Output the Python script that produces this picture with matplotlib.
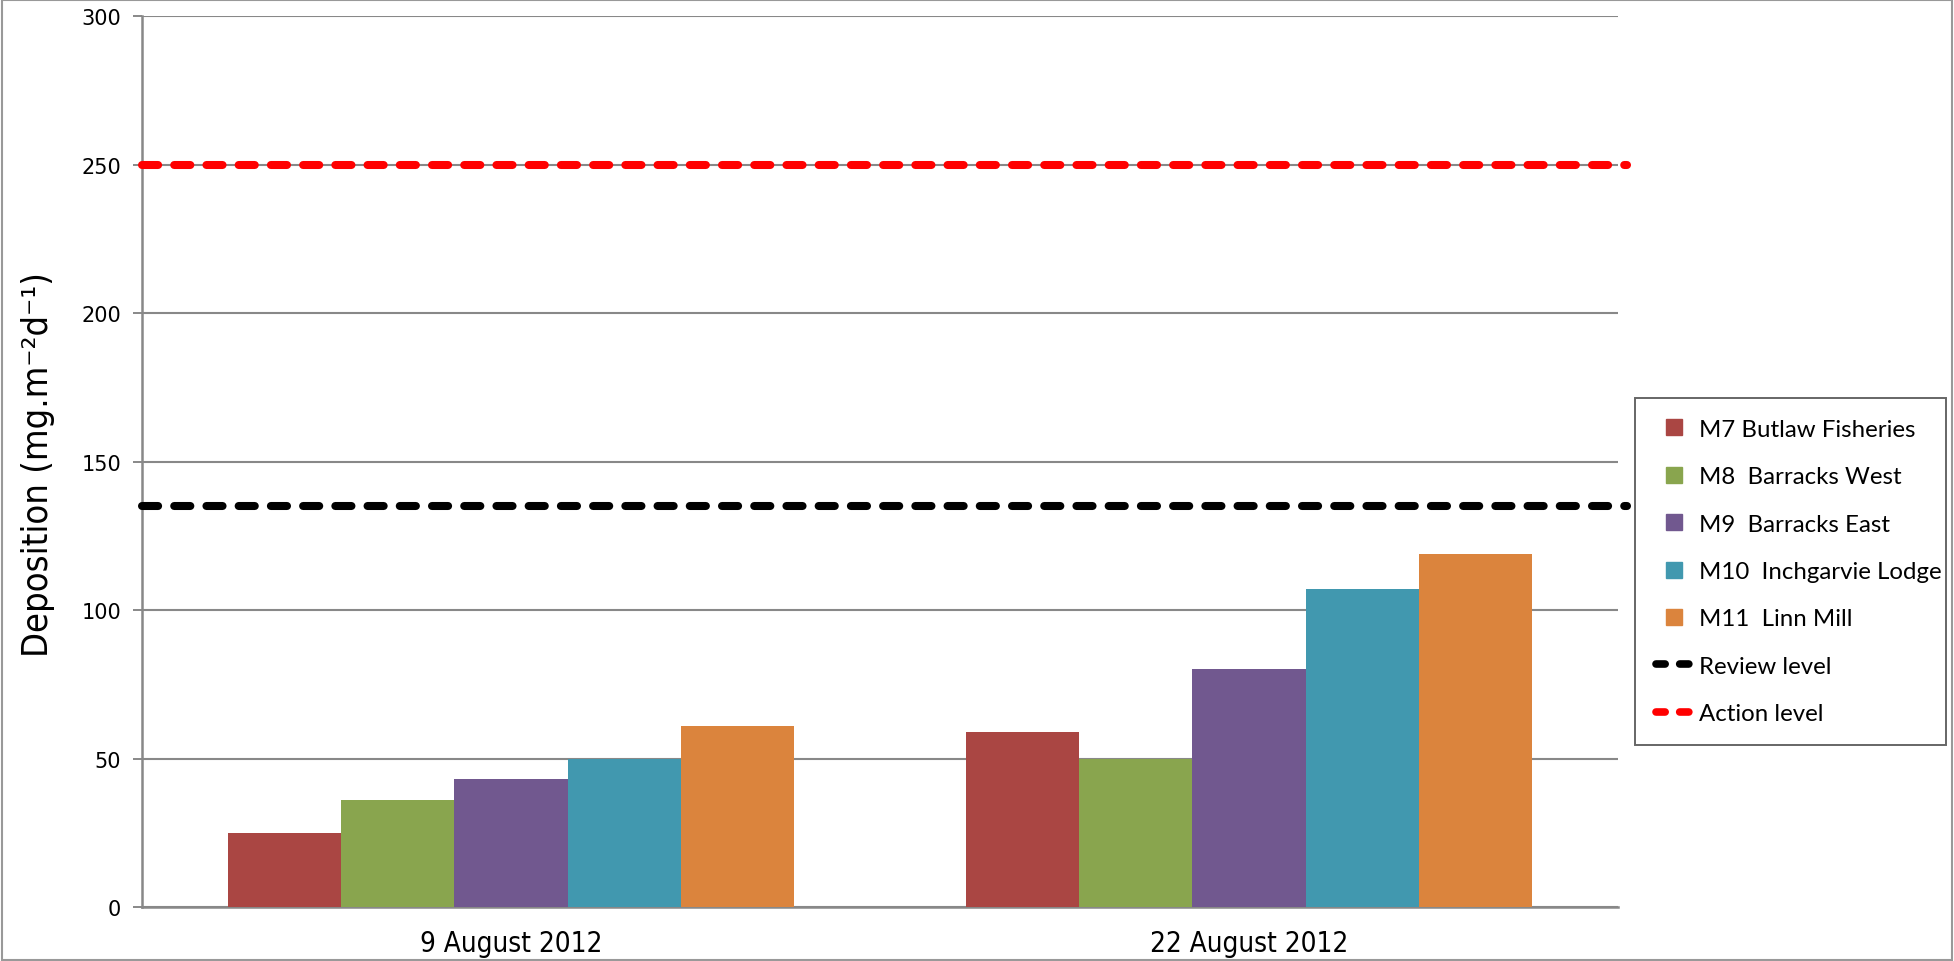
#!/usr/bin/env python3
"""Dust deposition at monitoring sites M7-M11, August 2012."""

import matplotlib
matplotlib.use("Agg")
import matplotlib.pyplot as plt
import matplotlib.patches as mpatches
from matplotlib import font_manager
from matplotlib.lines import Line2D
import numpy as np

# ---------------------------------------------------------------------------
# Data
# ---------------------------------------------------------------------------
DATES = ["9 August 2012", "22 August 2012"]
SITES = [
    "M7 Butlaw Fisheries",
    "M8  Barracks West",
    "M9  Barracks East",
    "M10  Inchgarvie Lodge",
    "M11  Linn Mill",
]
M7 = [25, 59]
M8 = [36, 50]
M9 = [43, 80]
M10 = [50, 107]
M11 = [61, 119]
REVIEW_LEVEL = 135
ACTION_LEVEL = 250
Y_TICKS = [0, 50, 100, 150, 200, 250, 300]

# ---------------------------------------------------------------------------
# Style
# ---------------------------------------------------------------------------
SITE_COLORS = ["#AA4643", "#89A54E", "#71588F", "#4198AF", "#DB843D"]
GRID = "#888888"
GROUP_SPAN = 0.768   # Excel gap width ~30%


def narrow_font(size):
    """Condensed face for the axis texts, if one is installed."""
    names = {f.name for f in font_manager.fontManager.ttflist}
    for fam in ("Liberation Sans Narrow", "DejaVu Sans Condensed"):
        if fam in names:
            return font_manager.FontProperties(family=fam, size=size)
    return font_manager.FontProperties(family="DejaVu Sans", stretch="condensed",
                                       size=size)


def main():
    fig = plt.figure(figsize=(19.54, 9.62), dpi=100)
    ax = fig.add_axes([0.0727, 0.0561, 0.7553, 0.9262])

    series = [M7, M8, M9, M10, M11]
    x = np.arange(len(DATES))
    width = GROUP_SPAN / len(series)
    for i, (vals, name, col) in enumerate(zip(series, SITES, SITE_COLORS)):
        offs = (i - (len(series) - 1) / 2) * width
        ax.bar(x + offs, vals, width, color=col, label=name, zorder=3)

    # threshold lines run a little past the plot edge, as in the original
    dash = dict(lw=5.8, dashes=(2, 2), dash_capstyle="round",
                solid_capstyle="round", clip_on=False, zorder=4)
    trans = ax.get_yaxis_transform()
    ax.plot([0, 1.006], [REVIEW_LEVEL] * 2, color="black", transform=trans, **dash)
    ax.plot([0, 1.006], [ACTION_LEVEL] * 2, color="#FF0000", transform=trans, **dash)

    ax.set_xlim(-0.5, len(DATES) - 0.5)
    ax.set_ylim(0, 300)
    ax.set_yticks(Y_TICKS)
    ax.set_xticks(x)
    ax.set_xticklabels(DATES, fontproperties=narrow_font(20))
    ax.tick_params(axis="x", length=0, pad=16)
    ax.tick_params(axis="y", length=6.5, width=1.4, color=GRID, pad=8.5,
                   labelsize=15)

    ax.yaxis.grid(True, color=GRID, lw=1.5, zorder=0)
    ax.set_axisbelow(True)
    for side in ("top", "right"):
        ax.spines[side].set_visible(False)
    for side in ("left", "bottom"):
        ax.spines[side].set_color(GRID)
        ax.spines[side].set_linewidth(1.8)

    fig.text(38 / 1954, 1 - 465 / 962, "Deposition (mg.m⁻²d⁻¹)",
             rotation=90, ha="center", va="center",
             fontproperties=narrow_font(26))

    # --- Legend ---
    handles = [Line2D([], [], ls="none", marker="s", markersize=11,
                      markerfacecolor=c, markeredgecolor=c) for c in SITE_COLORS]
    handles += [
        Line2D([], [], color="black", lw=5.5, dashes=(1.2, 1.9),
               dash_capstyle="round"),
        Line2D([], [], color="#FF0000", lw=5.5, dashes=(1.2, 1.9),
               dash_capstyle="round"),
    ]
    labels = SITES + ["Review level", "Action level"]
    leg = fig.legend(handles, labels, loc="center left",
                     bbox_to_anchor=(0.8367, 0.2225, 0.1592, 0.3648),
                     mode="expand", prop={"family": "Lato", "size": 17.3},
                     frameon=True, fancybox=False, edgecolor="#404040",
                     labelspacing=1.1, borderpad=0.88, handlelength=1.5,
                     handletextpad=0.3, borderaxespad=0)
    leg.get_frame().set_linewidth(1.4)

    # thin grey border round the whole picture
    fig.patches.append(mpatches.Rectangle(
        (0.001, 0.001), 0.998, 0.998, transform=fig.transFigure,
        fill=False, edgecolor="#999999", lw=1.5))

    fig.savefig("out.png", dpi=100)
    plt.close(fig)


if __name__ == "__main__":
    main()
